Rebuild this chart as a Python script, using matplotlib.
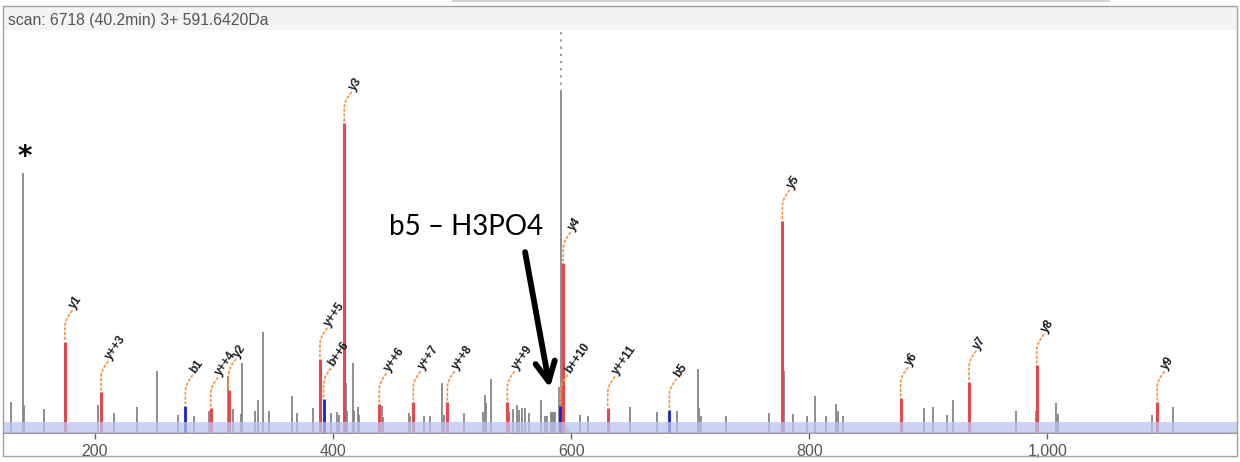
import matplotlib.pyplot as plt
from matplotlib.patches import Rectangle
from matplotlib.ticker import FuncFormatter

# spectrum header
scan_title = 'scan: 6718 (40.2min) 3+ 591.6420Da'

# unassigned peaks (m/z, relative intensity)
gray_mz = [129.2, 139.8, 140.6, 157.2, 202.3, 205.6, 216.2, 235.3, 252.4, 270.0,
           283.2, 295.5, 311.7, 316.2, 322.4, 323.5, 334.4, 336.7, 341.4, 345.9,
           365.3, 369.5, 383.4, 398.3, 403.1, 404.8, 410.6, 411.7, 416.5, 417.6,
           421.2, 422.1, 441.2, 441.7, 463.6, 464.6, 468.3, 476.4, 481.2, 491.3,
           493.2, 496.8, 509.8, 525.7, 527.9, 528.5, 532.5, 548.1, 550.9, 554.3,
           556.2, 559.0, 561.0, 564.6, 574.4, 578.0, 579.9, 582.7, 583.6, 584.5,
           585.3, 586.1, 589.6, 591.6, 607.5, 614.4, 632.0, 649.7, 672.4, 688.7,
           706.3, 707.7, 709.1, 730.1, 766.0, 778.6, 786.6, 797.9, 805.1, 814.1,
           822.8, 823.9, 828.7, 896.7, 903.7, 915.7, 920.8, 934.8, 973.7, 990.3,
           992.2, 1007.1, 1008.8, 1088.0, 1105.4]
gray_int = [7.6, 64.6, 6.9, 5.9, 6.9, 4.3, 5.0, 6.4, 15.4, 4.5,
            4.2, 5.5, 14.1, 5.9, 4.7, 17.4, 5.5, 8.2, 25.1, 5.4,
            9.2, 4.9, 6.1, 5.0, 5.2, 4.5, 12.3, 5.4, 17.4, 5.4,
            6.4, 4.5, 6.7, 4.0, 5.0, 4.2, 5.0, 4.2, 4.2, 12.3,
            4.4, 5.0, 4.9, 5.1, 9.4, 7.4, 13.4, 5.3, 5.9, 6.9,
            5.8, 6.3, 6.3, 4.9, 8.3, 4.2, 4.2, 5.1, 5.1, 5.1,
            5.1, 5.1, 11.5, 84.6, 4.5, 4.2, 4.3, 6.5, 5.3, 5.5,
            16.0, 6.3, 4.2, 4.2, 5.0, 15.3, 4.7, 4.2, 9.2, 4.3,
            7.3, 5.4, 4.3, 6.1, 6.5, 4.5, 8.2, 5.9, 5.4, 5.4,
            7.2, 7.4, 4.6, 4.4, 6.5]

# y ions (red)
y_labels = ['y1', 'y++3', 'y++4', 'y2', 'y++5', 'y3', 'y++6', 'y++7', 'y++8',
            'y++9', 'y4', 'y++11', 'y5', 'y6', 'y7', 'y8', 'y9']
y_mz = [174.8, 205.1, 297.2, 312.3, 389.0, 409.4, 438.8, 467.4, 496.0,
        546.4, 593.4, 630.7, 777.4, 876.8, 934.2, 991.1, 1092.2]
y_int = [22.7, 10.1, 6.1, 10.7, 18.4, 76.9, 7.1, 7.6, 7.6,
         7.6, 42.1, 6.3, 52.6, 8.6, 12.7, 16.8, 7.6]

# b ions (blue)
b_labels = ['b1', 'b++6', 'b++10', 'b5']
b_mz = [276.0, 392.1, 590.9, 682.5]
b_int = [6.7, 8.4, 6.7, 5.8]

precursor_mz = 591.6
precursor_int = 84.6
envelope_mz = [589.0, 591.6, 600.5]
envelope_int = [0.0, 3.6, 0.0]

x_ticks = [200, 400, 600, 800, 1000]

fig = plt.figure(figsize=(12.4, 4.62), dpi=100)
W, H = 1240, 462

# frame and header band
fig.add_artist(Rectangle((452 / W, 460 / H), 658 / W, 2 / H, transform=fig.transFigure,
                         facecolor='#d4d4d4', edgecolor='none'))
fig.add_artist(Rectangle((3 / W, (H - 30) / H), 1234 / W, 24 / H, transform=fig.transFigure,
                         facecolor='#f4f4f4', edgecolor='none'))
fig.add_artist(Rectangle((3 / W, 6 / H), 1234 / W, 450 / H, transform=fig.transFigure,
                         fill=False, edgecolor='#a0a0a0', lw=1))
fig.text(8 / W, (H - 21) / H, scan_title, fontsize=11.3, color='#555555',
         family='Liberation Sans', va='center', ha='left')

ax = fig.add_axes([3.5 / W, (H - 433) / H, 1233.5 / W, 403 / H])
ax.set_xlim(123.2, 1159.3)
ax.set_ylim(0, 100)
ax.patch.set_alpha(0)
for s in ['top', 'left', 'right']:
    ax.spines[s].set_visible(False)
ax.spines['bottom'].set_color('#888888')
ax.spines['bottom'].set_linewidth(1.2)
ax.set_yticks([])
ax.set_xticks(x_ticks)
ax.xaxis.set_major_formatter(FuncFormatter(lambda v, p: f'{int(v):,}'))
ax.tick_params(axis='x', length=4, width=1, color='#666666', labelcolor='#555555',
               labelsize=11.5, pad=4)
for lab in ax.get_xticklabels():
    lab.set_family('Liberation Sans')

# peaks
ax.vlines(gray_mz, 0, gray_int, colors='#858585', lw=1.3, zorder=2)
ax.plot([precursor_mz, precursor_mz], [precursor_int, 100], color='#9a9a9a',
        lw=1.4, ls=(0, (1.2, 2.5)), zorder=2)
ax.fill(envelope_mz, envelope_int, color='#9fbcb8', alpha=0.8, lw=0, zorder=3)
ax.vlines(y_mz, 0, y_int, colors='#e8464b', lw=2.2, zorder=4)
ax.vlines(b_mz, 0, b_int, colors='#1d1dd8', lw=2.0, zorder=4)

# baseline band
ax.axhspan(0, 2.8, color='#bcc3f1', alpha=0.75, lw=0, zorder=5)

# ion labels with curved dotted leaders
def label_peak(name, mz, inten):
    ax.annotate('', xy=(mz, inten), xytext=(5, 22), textcoords='offset points',
                arrowprops=dict(arrowstyle='-', color='#f39a4a', lw=1.3, ls=(0, (1, 1.6)),
                                shrinkA=0, shrinkB=0,
                                connectionstyle='angle,angleA=55,angleB=90,rad=6'),
                zorder=6)
    ax.annotate(name, xy=(mz, inten), xytext=(7, 23), textcoords='offset points',
                rotation=55, rotation_mode='anchor', ha='left', va='baseline',
                fontsize=8.5, fontweight='bold', family='Liberation Sans',
                color='#1a1a1a', zorder=7)

for n, m, v in zip(y_labels, y_mz, y_int):
    label_peak(n, m, v)
for n, m, v in zip(b_labels, b_mz, b_int):
    label_peak(n, m, v)

# hand annotations
ax.text(140.8, 68.6, '*', fontsize=20, fontweight='bold', ha='center', va='center',
        color='black')
ax.text(447, 49.1, 'b5 \u2013 H3PO4', fontsize=20, family='Lato', ha='left',
        va='baseline', color='black')
ax.annotate('', xy=(582.1, 11.2), xytext=(561.3, 44.9),
            arrowprops=dict(arrowstyle='->,head_length=1.4,head_width=0.7', lw=4.2,
                            color='black', shrinkA=0, shrinkB=0))

plt.savefig('out.png', dpi=100)
